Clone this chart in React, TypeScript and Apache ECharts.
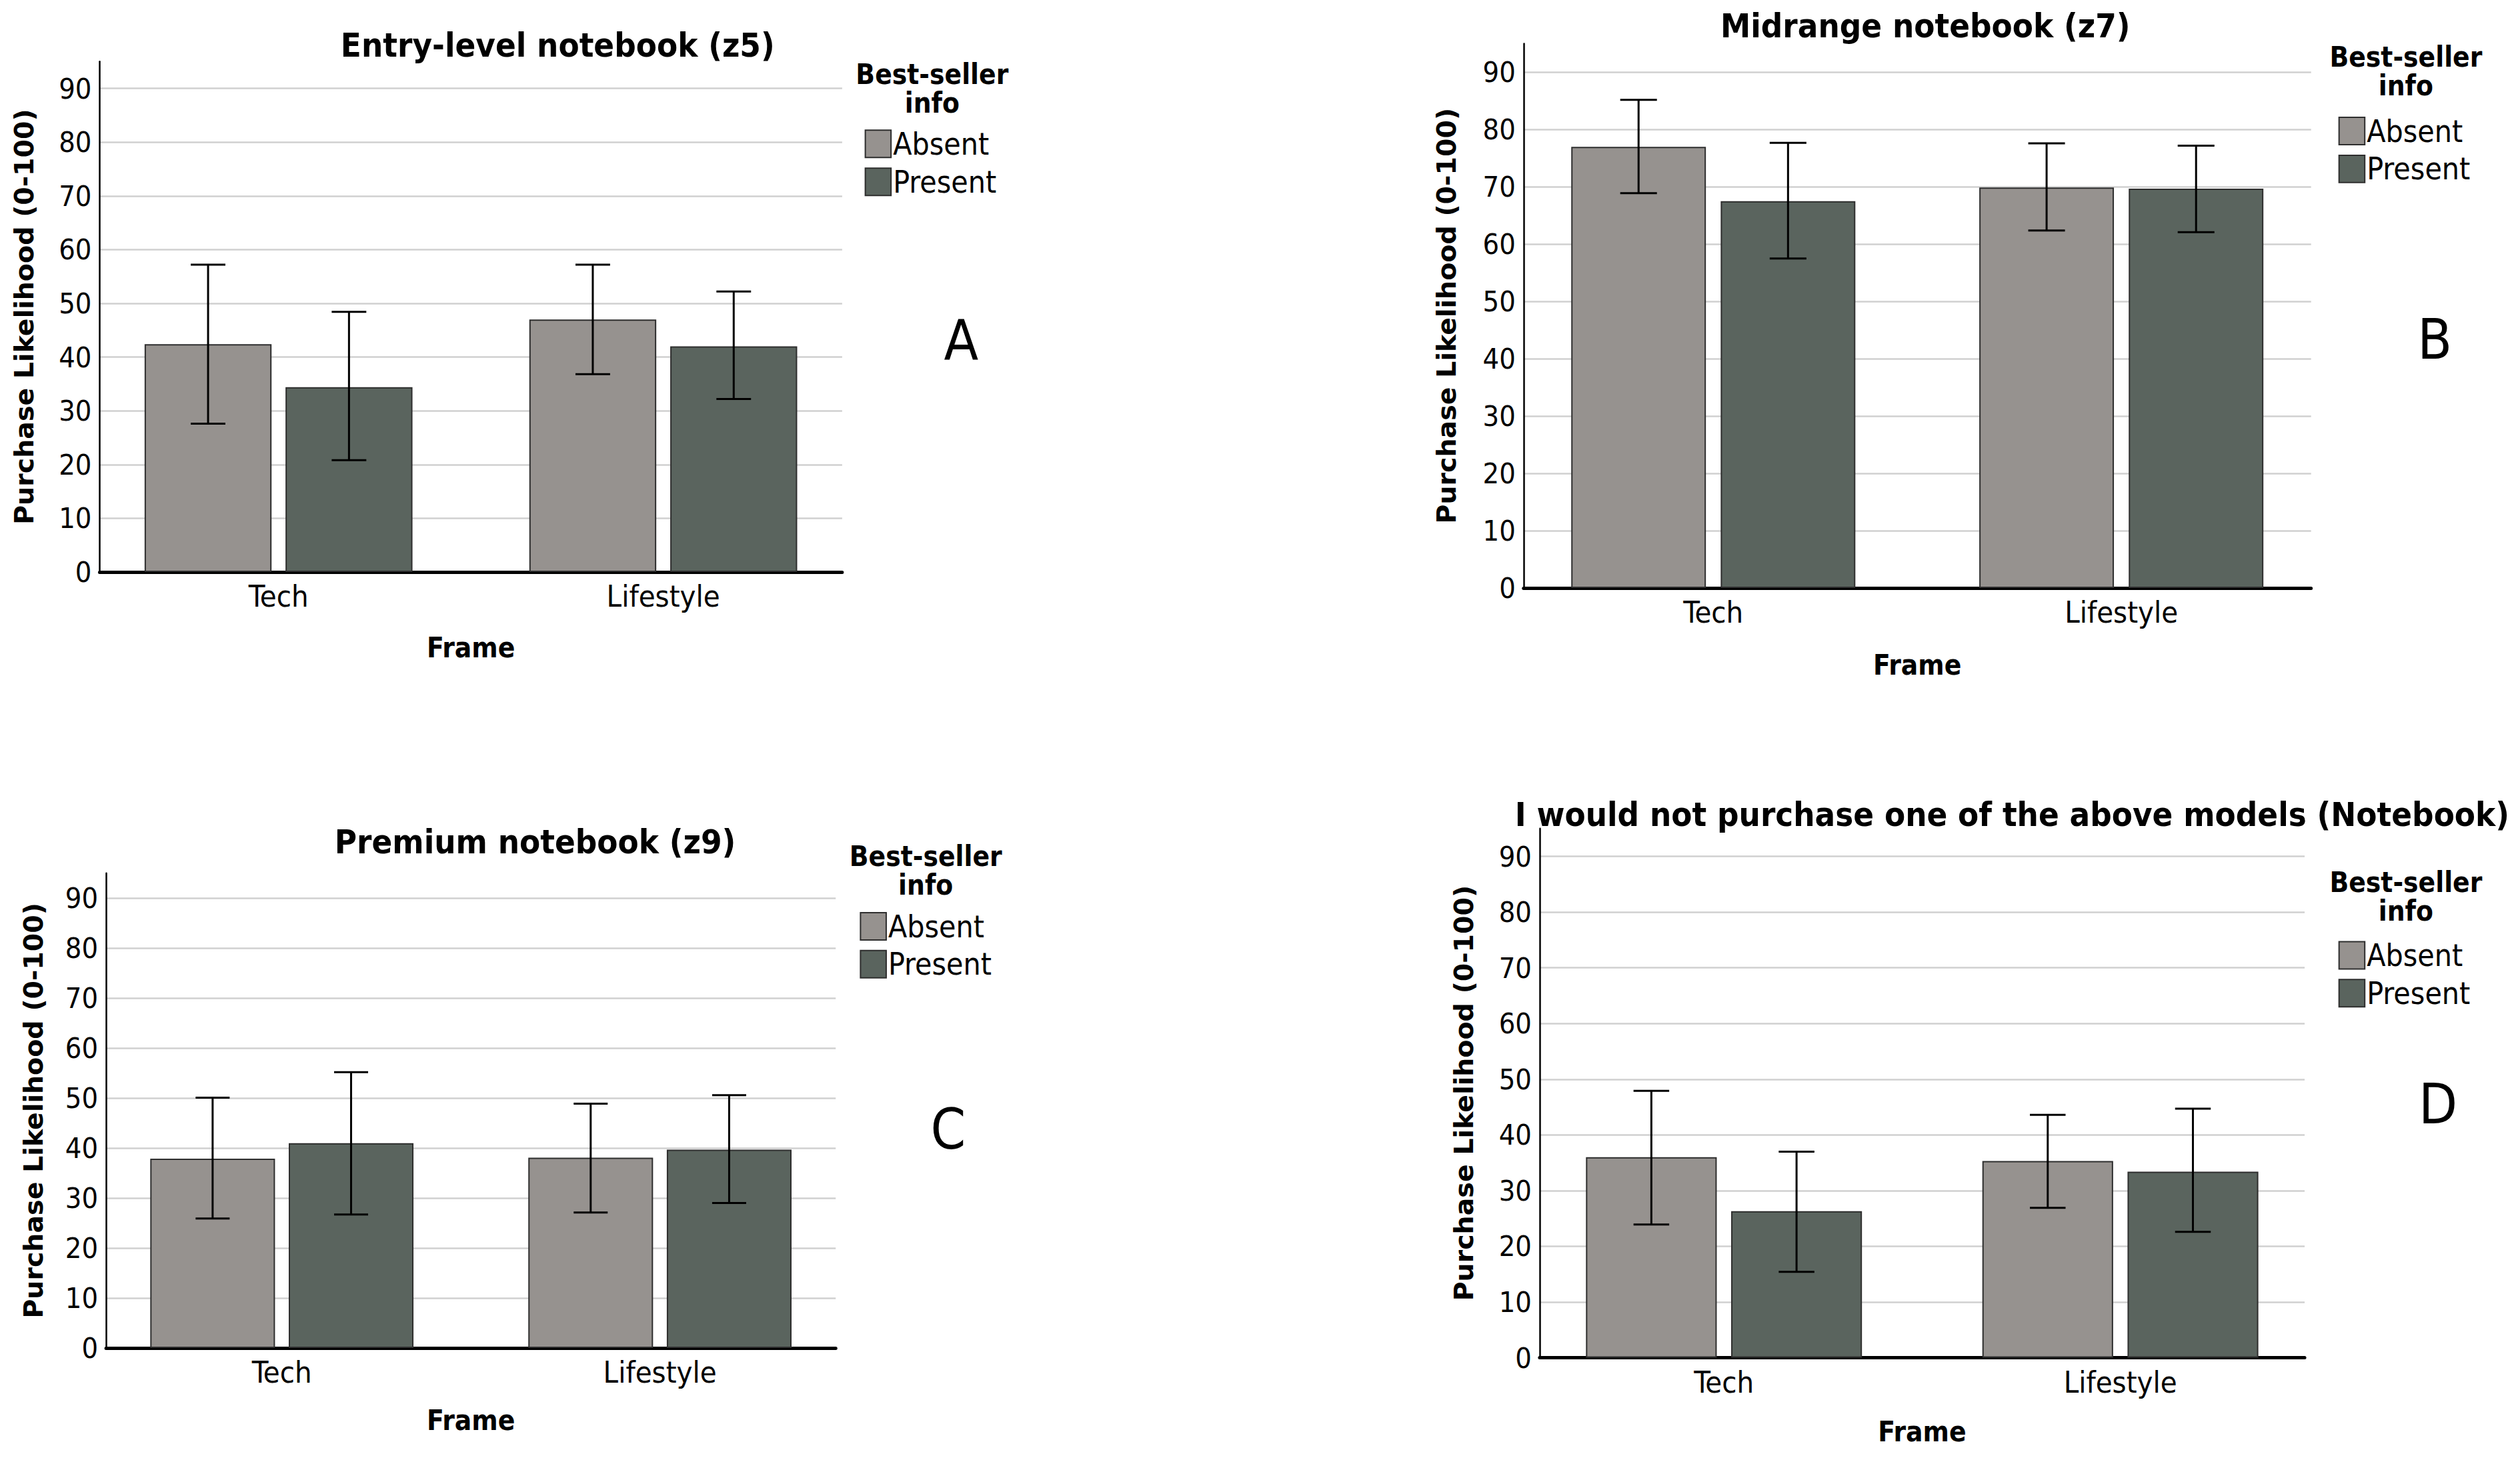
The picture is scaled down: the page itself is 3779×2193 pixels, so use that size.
import React, { useEffect, useRef } from 'react';
import * as echarts from 'echarts';

const W = 3779;
const H = 2193;
const S = W / 1568;

// ---------- data ----------
const categories = ['Tech', 'Lifestyle'];
const groups = ['Absent', 'Present'];
const panelTitles = [
  'Entry-level notebook (z5)',
  'Midrange notebook (z7)',
  'Premium notebook (z9)',
  'I would not purchase one of the above models (Notebook)',
];
const panelLetters = ['A', 'B', 'C', 'D'];
const yAxisName = 'Purchase Likelihood (0-100)';
const xAxisName = 'Frame';
const legendTitle = 'Best-seller\ninfo';
const yMin = 0;
const yMax = 95;
const yInterval = 10;

const entryAbsent = [42.4, 47.0];
const entryPresent = [34.4, 42.0];
const entryAbsentCI = [[27.6, 57.2], [36.8, 57.2]];
const entryPresentCI = [[20.8, 48.4], [32.2, 52.2]];

const midAbsent = [77.0, 69.9];
const midPresent = [67.5, 69.7];
const midAbsentCI = [[68.9, 85.2], [62.4, 77.6]];
const midPresentCI = [[57.5, 77.7], [62.1, 77.2]];

const premAbsent = [37.9, 38.1];
const premPresent = [41.0, 39.7];
const premAbsentCI = [[25.9, 50.1], [27.1, 48.9]];
const premPresentCI = [[26.7, 55.2], [29.0, 50.6]];

const noneAbsent = [36.0, 35.3];
const nonePresent = [26.3, 33.4];
const noneAbsentCI = [[23.9, 47.9], [26.9, 43.6]];
const nonePresentCI = [[15.4, 37.0], [22.6, 44.7]];

const panelMeans = [
  [entryAbsent, entryPresent],
  [midAbsent, midPresent],
  [premAbsent, premPresent],
  [noneAbsent, nonePresent],
];
const panelCIs = [
  [entryAbsentCI, entryPresentCI],
  [midAbsentCI, midPresentCI],
  [premAbsentCI, premPresentCI],
  [noneAbsentCI, nonePresentCI],
];

// ---------- layout (reference px / S) ----------
const layouts = [
  { axisX: 62, right: 524, zero: 356, g90: 55, titleX: 347, titleY: 28, legX: 580, legY: 55, swX: 538, swY: 80, letX: 598, letY: 212, nameX: 15, frameY: 403 },
  { axisX: 948, right: 1438, zero: 366, g90: 45, titleX: 1198, titleY: 16, legX: 1497, legY: 44.5, swX: 1455, swY: 72, letX: 1515, letY: 211, nameX: 900, frameY: 414 },
  { axisX: 66, right: 520, zero: 839, g90: 559, titleX: 333, titleY: 524, legX: 576, legY: 542, swX: 535, swY: 567, letX: 590, letY: 703, nameX: 21, frameY: 884 },
  { axisX: 958, right: 1434, zero: 845, g90: 533, titleX: 1252, titleY: 507, legX: 1497, legY: 558, swX: 1455, swY: 585, letX: 1517, letY: 687, nameX: 911, frameY: 891 },
];

const X_MARGIN = 0.465;
const BAR_W = 0.33;
const BAR_GAP = 0.11;
const CAP_W = 0.09;
const BAR_OFFSET = (BAR_W * (1 + BAR_GAP)) / 2;

const COLORS = ['#96928f', '#5a645e'];
const COND = "'DejaVu Sans Condensed', 'Liberation Sans Narrow', 'DejaVu Sans', sans-serif";
const WIDE = "'DejaVu Sans', 'Verdana', sans-serif";

function buildOption() {
  const grid: any[] = [];
  const xAxis: any[] = [];
  const yAxis: any[] = [];
  const series: any[] = [];
  const title: any[] = [];
  const legend: any[] = [];
  const graphic: any[] = [];

  layouts.forEach((L, p) => {
    const top = L.zero - ((L.zero - L.g90) * (yMax - yMin)) / 90;
    grid.push({
      left: L.axisX * S,
      top: top * S,
      width: (L.right - L.axisX) * S,
      height: (L.zero - top) * S,
      containLabel: false,
      outerBoundsMode: 'none',
    });
    const yNameSize = 39.5;
    const frameSize = 42;
    yAxis.push({
      type: 'value',
      gridIndex: p,
      min: yMin,
      max: yMax,
      interval: yInterval,
      name: yAxisName,
      nameLocation: 'middle',
      nameRotate: 90,
      nameMoveOverlap: false,
      nameGap: (L.axisX - L.nameX) * S - yNameSize / 2,
      nameTextStyle: { fontFamily: WIDE, fontWeight: 'bold', fontSize: yNameSize, color: '#000' },
      axisLine: { show: true, onZero: false, lineStyle: { color: '#000', width: 2.5 } },
      axisTick: { show: false },
      axisLabel: { fontFamily: COND, fontSize: 43, color: '#000', margin: 12, showMaxLabel: false },
      splitLine: { show: true, showMaxLine: false, showMinLine: false, lineStyle: { color: '#d0d0d0', width: 2.5 } },
    });
    xAxis.push({
      type: 'value',
      gridIndex: p,
      min: -X_MARGIN,
      max: categories.length - 1 + X_MARGIN,
      name: xAxisName,
      nameLocation: 'middle',
      nameMoveOverlap: false,
      nameGap: (L.frameY - L.zero) * S - frameSize / 2,
      nameTextStyle: { fontFamily: COND, fontWeight: 'bold', fontSize: frameSize, color: '#000' },
      axisLine: { show: true, onZero: false, lineStyle: { color: '#000', width: 5 } },
      axisTick: { show: false },
      splitLine: { show: false },
      axisLabel: {
        customValues: categories.map((_, i) => i),
        formatter: (v: number) => categories[Math.round(v)] ?? '',
        fontFamily: COND,
        fontSize: 45,
        color: '#000',
        margin: 14,
      },
    });

    groups.forEach((g, gi) => {
      const means = panelMeans[p][gi];
      series.push({
        type: 'bar',
        name: g,
        xAxisIndex: p,
        yAxisIndex: p,
        barWidth: `${BAR_W * 100}%`,
        barGap: `${BAR_GAP * 100}%`,
        data: means.map((v, i) => [i, v]),
        itemStyle: { color: COLORS[gi], borderColor: '#2e2e2e', borderWidth: 2 },
        emphasis: { disabled: true },
        z: 2,
      });
    });
    groups.forEach((g, gi) => {
      const cis = panelCIs[p][gi];
      const off = gi === 0 ? -BAR_OFFSET : BAR_OFFSET;
      series.push({
        type: 'custom',
        name: g + ' CI',
        xAxisIndex: p,
        yAxisIndex: p,
        z: 5,
        data: cis.map((c, i) => [i + off, c[0], c[1]]),
        renderItem: (params: any, api: any) => {
          const x = api.value(0);
          const lo = api.value(1);
          const hi = api.value(2);
          const pt = api.coord([x, hi]);
          const pb = api.coord([x, lo]);
          const half = api.size([CAP_W, 0])[0] / 2;
          const style = { stroke: '#000', lineWidth: 3, fill: null };
          return {
            type: 'group',
            children: [
              { type: 'line', shape: { x1: pt[0], y1: pt[1], x2: pb[0], y2: pb[1] }, style },
              { type: 'line', shape: { x1: pt[0] - half, y1: pt[1], x2: pt[0] + half, y2: pt[1] }, style },
              { type: 'line', shape: { x1: pb[0] - half, y1: pb[1], x2: pb[0] + half, y2: pb[1] }, style },
            ],
          };
        },
      });
    });

    title.push({
      text: panelTitles[p],
      left: L.titleX * S,
      top: L.titleY * S,
      textAlign: 'center',
      textVerticalAlign: 'middle',
      padding: 0,
      textStyle: { fontFamily: COND, fontWeight: 'bold', fontSize: 50.5, color: '#000' },
    });

    legend.push({
      data: groups,
      orient: 'vertical',
      left: L.swX * S,
      top: L.swY * S,
      padding: 0,
      icon: 'rect',
      itemWidth: 16 * S,
      itemHeight: 17 * S,
      itemGap: 4.5 * S,
      selectedMode: false,
      textStyle: { fontFamily: COND, fontSize: 46, color: '#000', padding: [0, 0, 0, -2] },
    });

    graphic.push({
      type: 'text',
      x: L.legX * S,
      y: L.legY * S,
      style: {
        text: legendTitle,
        fontFamily: COND,
        fontWeight: 'bold',
        fontSize: 42,
        lineHeight: 43,
        fill: '#000',
        align: 'center',
        verticalAlign: 'middle',
        textAlign: 'center',
        textVerticalAlign: 'middle',
      },
    });
    graphic.push({
      type: 'text',
      x: L.letX * S,
      y: L.letY * S,
      style: {
        text: panelLetters[p],
        fontFamily: COND,
        fontSize: 84,
        fill: '#000',
        align: 'center',
        verticalAlign: 'middle',
        textAlign: 'center',
        textVerticalAlign: 'middle',
      },
    });
  });

  return {
    animation: false,
    backgroundColor: '#ffffff',
    title,
    legend,
    grid,
    xAxis,
    yAxis,
    series,
    graphic,
  };
}

export default function App() {
  const ref = useRef<HTMLDivElement>(null);
  useEffect(() => {
    if (!ref.current) return;
    const chart = echarts.init(ref.current, null, { renderer: 'svg', width: W, height: H });
    chart.setOption(buildOption() as any);
    return () => chart.dispose();
  }, []);
  return <div ref={ref} style={{ position: 'absolute', left: 0, top: 0, width: W, height: H, background: '#fff' }} />;
}
